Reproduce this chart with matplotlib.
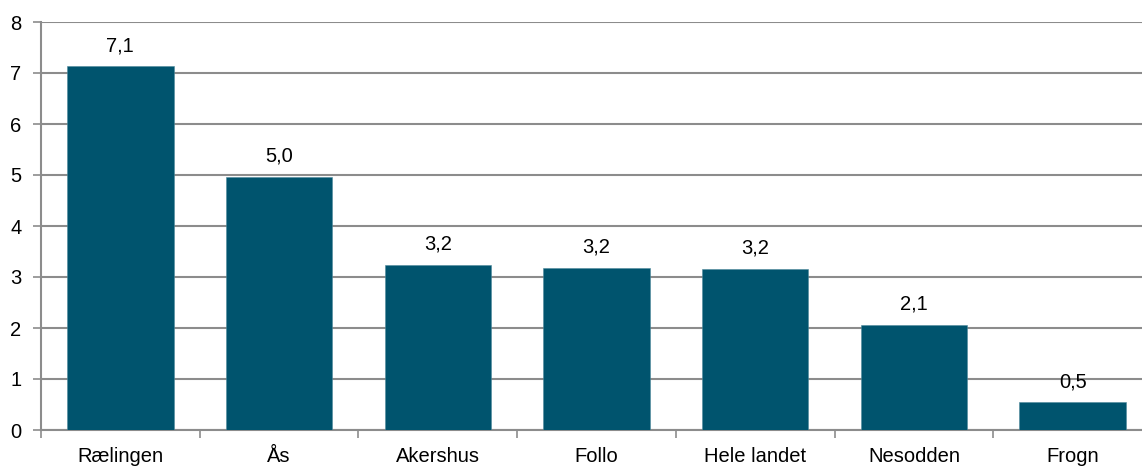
import matplotlib.pyplot as plt
import numpy as np

categories = ["Rælingen", "Ås", "Akershus", "Follo", "Hele landet", "Nesodden", "Frogn"]
values = [7.13, 4.96, 3.24, 3.18, 3.16, 2.06, 0.54]

plt.rcParams["font.family"] = ["Liberation Sans", "DejaVu Sans"]

bar_color = "#00546e"
grid_color = "#8c8c8c"
fs = 14.5

fig = plt.figure(figsize=(11.42, 4.66), dpi=100)
ax = fig.add_axes([41 / 1142, 36 / 466, 1111 / 1142, 408 / 466])

x = np.arange(len(categories))
bars = ax.bar(x, values, width=0.67, color=bar_color, edgecolor="#4f8a9c",
              linewidth=0.4, zorder=3)

for rect, v in zip(bars, values):
    ax.annotate(f"{v:.1f}".replace(".", ","),
                (rect.get_x() + rect.get_width() / 2, rect.get_height()),
                xytext=(0, 8), textcoords="offset points",
                ha="center", va="bottom", fontsize=fs, zorder=4)

ax.set_xlim(-0.5, len(categories) - 0.5)
ax.set_ylim(0, 8)
ax.set_yticks(range(0, 9))
ax.yaxis.grid(True, color=grid_color, linewidth=1.5, zorder=0)

ax.set_xticks(x)
ax.set_xticklabels(categories)
ax.set_xticks(np.arange(-0.5, len(categories), 1), minor=True)
ax.tick_params(axis="x", which="major", length=0, pad=12, labelsize=fs)
ax.tick_params(axis="x", which="minor", length=6, width=1.2, color=grid_color)
ax.tick_params(axis="y", length=6, width=1.2, color=grid_color, labelsize=fs, pad=8)

for side in ["top", "right"]:
    ax.spines[side].set_visible(False)
for side in ["left", "bottom"]:
    ax.spines[side].set_color(grid_color)
    ax.spines[side].set_linewidth(1.5)

fig.savefig("out.png", dpi=100)
